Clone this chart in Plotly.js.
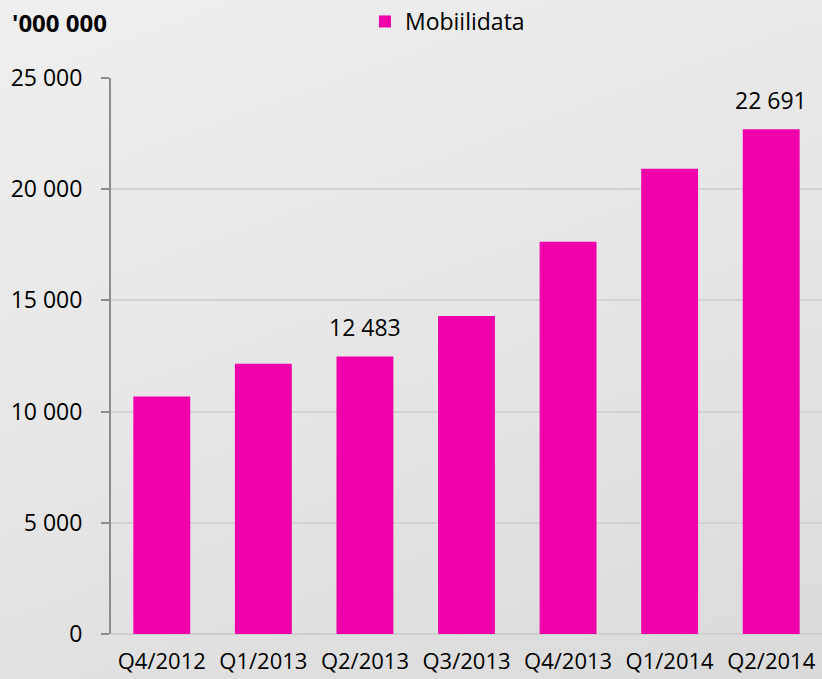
<!DOCTYPE html>
<html>
<head>
<meta charset="utf-8">
<script src="https://cdn.plot.ly/plotly-3.0.1.min.js"></script>
<style>
html,body{margin:0;padding:0;width:822px;height:679px;overflow:hidden;
background:linear-gradient(160deg,#efefef 0%,#e6e6e6 50%,#dadada 100%);}
#chart{width:822px;height:679px;}
</style>
</head>
<body>
<div id="chart"></div>
<script>
const categories = ['Q4/2012','Q1/2013','Q2/2013','Q3/2013','Q4/2013','Q1/2014','Q2/2014'];
const values = [10680, 12150, 12483, 14300, 17640, 20920, 22691];
const labelled = [false, false, true, false, false, false, true];
const seriesName = 'Mobiilidata';
const unitLabel = "'000 000";
const yTicks = [0, 5000, 10000, 15000, 20000, 25000];

const font = '"Open Sans", "Liberation Sans", sans-serif';
const fmt = v => String(v).replace(/\B(?=(\d{3})+(?!\d))/g, ' ');

const annotations = categories.map((c, i) => labelled[i] ? {
  x: c, y: values[i], xref: 'x', yref: 'y', text: fmt(values[i]),
  showarrow: false, yanchor: 'bottom', yshift: 11,
  font: {family: font, size: 23, color: '#000'}
} : null).filter(a => a);
annotations.push({
  text: '<b>' + unitLabel + '</b>', xref: 'paper', yref: 'paper',
  x: -0.073, y: 1.10, xanchor: 'center', yanchor: 'middle', showarrow: false,
  font: {family: font, size: 24, color: '#000'}
});

Plotly.newPlot('chart', [{
  type: 'bar', x: categories, y: values, name: seriesName,
  marker: {color: '#F000AA'}, hoverinfo: 'none', showlegend: true
}], {
  width: 822, height: 679,
  margin: {l: 111, r: 0, t: 78, b: 45},
  paper_bgcolor: 'rgba(0,0,0,0)', plot_bgcolor: 'rgba(0,0,0,0)',
  separators: ', ',
  bargap: 0.44,
  font: {family: font, size: 22, color: '#000'},
  showlegend: true,
  legend: {orientation: 'h', xref: 'container', yref: 'container', x: 0.444, y: 1,
           xanchor: 'left', yanchor: 'top', font: {family: font, size: 23, color: '#000'},
           bgcolor: 'rgba(0,0,0,0)'},
  xaxis: {type: 'category', showgrid: false, showline: false, ticks: '', zeroline: false,
          tickfont: {family: font, size: 22, color: '#000'}, ticklabelstandoff: 12},
  yaxis: {range: [0, 25000], tickvals: yTicks, ticktext: yTicks.map(fmt),
          showgrid: true, gridcolor: '#d3d3d3', gridwidth: 2,
          showline: true, linecolor: '#8c8c8c', linewidth: 2,
          ticks: 'outside', ticklen: 8, tickcolor: '#8c8c8c', tickwidth: 2,
          zeroline: true, zerolinecolor: '#cfcfcf', zerolinewidth: 2,
          tickfont: {family: font, size: 23, color: '#000'}, ticklabelstandoff: 14},
  annotations: annotations
}, {displayModeBar: false, staticPlot: true});
</script>
</body>
</html>
